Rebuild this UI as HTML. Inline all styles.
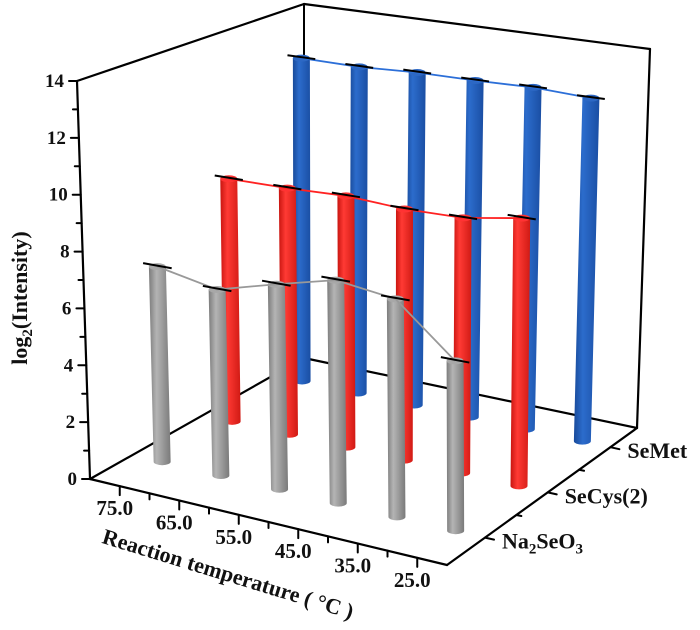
<!DOCTYPE html>
<html><head><meta charset="utf-8"><title>3D bar chart</title>
<style>html,body{margin:0;padding:0;background:#fff;}svg{display:block;}</style></head>
<body>
<svg id="chart" width="700" height="630" viewBox="0 0 700 630" xmlns="http://www.w3.org/2000/svg">
<defs>
<linearGradient id="gGray" x1="0" x2="1" y1="0" y2="0"><stop offset="0" stop-color="#7c7c7c"/><stop offset="0.35" stop-color="#b4b4b4"/><stop offset="1" stop-color="#7a7a7a"/></linearGradient>
<linearGradient id="gRed" x1="0" x2="1" y1="0" y2="0"><stop offset="0" stop-color="#c81510"/><stop offset="0.35" stop-color="#ff3a34"/><stop offset="1" stop-color="#d01a14"/></linearGradient>
<linearGradient id="gBlue" x1="0" x2="1" y1="0" y2="0"><stop offset="0" stop-color="#184a9a"/><stop offset="0.35" stop-color="#2c6ccc"/><stop offset="1" stop-color="#1a4ea3"/></linearGradient>
</defs>
<g id="axes"></g>
<g id="bars"></g>
<g id="labels" font-family="Liberation Serif, serif" font-weight="bold" fill="#111"></g>
</svg>
<script>
const temps = ["75.0","65.0","55.0","45.0","35.0","25.0"];
const compounds = ["Na2SeO3","SeCys(2)","SeMet"];
const grayValues = [6.96,6.53,7.09,7.59,7.31,5.61];
const redValues = [9.0,9.0,9.06,8.93,8.95,9.27];
const blueValues = [12.47,12.44,12.53,12.53,12.57,12.47];
const yTicks = [0,2,4,6,8,10,12,14];

const NS="http://www.w3.org/2000/svg";
const ZMAX=14;
const A=[90,479],B=[447,565],C=[637,428],D=[304,358];
const At=[77,81],Bt=[443,126],Ct=[650,49],Dt=[304,4];
function bil(p,q,r,s,u,v){return [(1-u)*(1-v)*p[0]+u*(1-v)*q[0]+u*v*r[0]+(1-u)*v*s[0],(1-u)*(1-v)*p[1]+u*(1-v)*q[1]+u*v*r[1]+(1-u)*v*s[1]];}
function P(u,v,z){const f=bil(A,B,C,D,u,v),t=bil(At,Bt,Ct,Dt,u,v);const k=z/ZMAX;return [f[0]+(t[0]-f[0])*k,f[1]+(t[1]-f[1])*k];}
function uPos(i){return (i+0.5)/temps.length;}
function vPos(j){return 0.2+0.33*j;}
function el(tag,attrs,parent){const e=document.createElementNS(NS,tag);for(const k in attrs)e.setAttribute(k,attrs[k]);parent.appendChild(e);return e;}
const axes=document.getElementById('axes'),bars=document.getElementById('bars'),labels=document.getElementById('labels');
function line(p,q,w,col,parent,name){const l=el('line',{x1:p[0],y1:p[1],x2:q[0],y2:q[1],stroke:col,'stroke-width':w,'stroke-linecap':'round'},parent);return l;}
line(A,B,2.2,'#000',axes,'floor-front-edge');
line(B,C,2.2,'#000',axes,'floor-right-edge');
line(A,D,2.2,'#000',axes,'floor-left-edge');
line(D,C,2.2,'#000',axes,'floor-back-edge');
line(A,At,2.2,'#000',axes,'y-axis-line');
line(At,Dt,2.2,'#000',axes,'left-wall-top-edge');
line(D,Dt,2,'#000',axes,'back-vertical-edge');
line(Dt,Ct,2.2,'#000',axes,'back-wall-top-edge');
line(C,Ct,2.2,'#000',axes,'right-wall-edge');
for(let z=0;z<=ZMAX;z++){const p=P(0,0,z);const major=z%2===0;line(p,[p[0]-(major?8:5),p[1]],2,'#000',axes,major?'y-tick-major':'y-tick-minor');}
yTicks.forEach(z=>{const p=P(0,0,z);const t=el('text',{x:p[0]-13,y:p[1]+6,'text-anchor':'end','font-size':19},labels);t.textContent=String(z);});
for(let k=1;k<2*temps.length;k++){const u=k/(2*temps.length);const p=P(u,0,0);const major=k%2===1;line(p,[p[0],p[1]+(major?9:6)],2,'#000',axes,major?'x-tick-major':'x-tick-minor');}
temps.forEach((t,i)=>{const p=P(uPos(i),0,0);const e=el('text',{x:p[0]-5,y:p[1]+29,'text-anchor':'middle','font-size':21},labels);e.textContent=t;});
for(let k=0;k<=2*compounds.length;k++){const v=0.2+0.165*k;if(v>1)break;const p=P(1,v,0);const major=k%2===0;line(p,[p[0]+(major?9:5),p[1]+(major?2:1)],2,'#000',axes,major?'z-tick-major':'z-tick-minor');}
compounds.forEach((c,j)=>{const p=P(1,vPos(j),0);const e=el('text',{x:p[0]+17,y:p[1]+11,'text-anchor':'start','font-size':22},labels);
 if(c==="Na2SeO3"){e.innerHTML='Na<tspan font-size="15" dy="5">2</tspan><tspan dy="-5">SeO</tspan><tspan font-size="15" dy="5">3</tspan>';}else e.textContent=c;
 });
const yt=el('text',{x:0,y:0,'text-anchor':'middle','font-size':22,transform:'translate(27,298) rotate(-90)'},labels);
yt.innerHTML='log<tspan font-size="15" dy="5">2</tspan><tspan dy="-5">(Intensity)</tspan>';

const xt=el('text',{x:0,y:0,'text-anchor':'middle','font-size':22,transform:'translate(226,581) rotate(17)'},labels);
xt.textContent='Reaction temperature ( °C )';

const series=[{vals:blueValues,j:2,fill:'url(#gBlue)',top:'#2d68c4',line:'#2c6fd8',name:'semet'},{vals:redValues,j:1,fill:'url(#gRed)',top:'#f33',line:'#f22',name:'secys2'},{vals:grayValues,j:0,fill:'url(#gGray)',top:'#a8a8a8',line:'#999',name:'na2seo3'}];
const R=8.5,E=3.5;
series.forEach(s=>{
 const g=el('g',{},bars);
 const tops=[];
 s.vals.forEach((val,i)=>{
  const u=uPos(i),v=vPos(s.j);const b=P(u,v,0),t=P(u,v,val);tops.push(t);
  const path=`M${b[0]-R},${b[1]} L${t[0]-R},${t[1]} L${t[0]+R},${t[1]} L${b[0]+R},${b[1]} A${R},${E} 0 0 1 ${b[0]-R},${b[1]} Z`;
  const c=el('path',{d:path,fill:s.fill},g);
  const cap=el('ellipse',{cx:t[0],cy:t[1],rx:R,ry:E,fill:s.top},g);
 });
 const pl=el('polyline',{points:tops.map(p=>p.join(',')).join(' '),fill:'none',stroke:s.line,'stroke-width':1.8},g);
 
 tops.forEach((t,i)=>{
  const u=uPos(i),v=vPos(s.j),val=s.vals[i];const p1=P(u-0.04,v,val),p2=P(u+0.04,v,val);
  const eb=el('line',{x1:p1[0],y1:p1[1]-1,x2:p2[0],y2:p2[1]-1,stroke:'#000','stroke-width':2},g);
  
 });
});
</script>
</body></html>
